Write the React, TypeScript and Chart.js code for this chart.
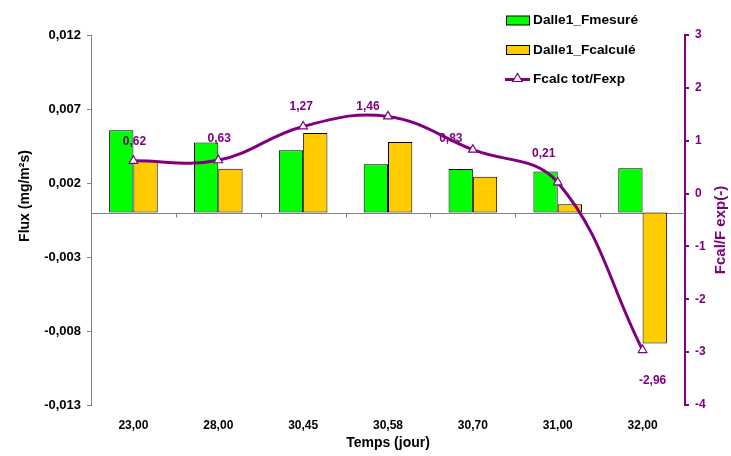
import React, { useEffect, useRef } from "react";
import { Chart, registerables } from "chart.js";

Chart.register(...registerables);

const categories = ["23,00", "28,00", "30,45", "30,58", "30,70", "31,00", "32,00"];
const fMesure = [0.00556, 0.00473, 0.00421, 0.00326, 0.00295, 0.00277, 0.00299];
const fCalcule = [0.00347, 0.00297, 0.00538, 0.00477, 0.00243, 0.00056, -0.00885];
const ratio = [0.62, 0.63, 1.27, 1.46, 0.83, 0.21, -2.96];
const fluxTicks = [-0.013, -0.008, -0.003, 0.002, 0.007, 0.012];
const ratioTicks = [-4, -3, -2, -1, 0, 1, 2, 3];

const seriesNames = ["Dalle1_Fmesuré", "Dalle1_Fcalculé", "Fcalc tot/Fexp"];

// label placement offsets (styling)
const labelOffsets = [
  [1, -19],
  [1, -22],
  [-2, -20],
  [-20, -10],
  [-22, -11],
  [-14, -29],
  [10, 31],
];

const GREEN = "#00FF00";
const YELLOW = "#FFCC00";
const PURPLE = "#800080";
const FONT = "'Liberation Sans', Arial, sans-serif";
const W = 723;
const H = 448;

const fmtComma = (v: number, d: number) => v.toFixed(d).replace(".", ",");

const drawTriangle = (ctx: CanvasRenderingContext2D, x: number, y: number, r: number) => {
  ctx.beginPath();
  ctx.moveTo(x, y - r);
  ctx.lineTo(x + r * 0.95, y + r * 0.6);
  ctx.lineTo(x - r * 0.95, y + r * 0.6);
  ctx.closePath();
  ctx.fillStyle = "#fff";
  ctx.fill();
  ctx.strokeStyle = PURPLE;
  ctx.lineWidth = 1.2;
  ctx.stroke();
};

const customPlugin = {
  id: "custom",
  beforeDatasetsDraw(chart: any) {
    const { ctx, chartArea, scales } = chart;
    const y0 = Math.round(scales.y.getPixelForValue(0)) + 0.5;
    ctx.save();
    ctx.strokeStyle = "#808080";
    ctx.lineWidth = 1;
    ctx.beginPath();
    ctx.moveTo(chartArea.left, y0);
    ctx.lineTo(chartArea.right, y0);
    const n = categories.length;
    const w = (chartArea.right - chartArea.left) / n;
    for (let i = 1; i < n; i++) {
      const x = Math.round(chartArea.left + i * w) + 0.5;
      ctx.moveTo(x, y0);
      ctx.lineTo(x, y0 + 4);
    }
    ctx.stroke();
    ctx.restore();
  },
  afterDatasetsDraw(chart: any) {
    const { ctx } = chart;
    const meta = chart.getDatasetMeta(2);
    ctx.save();
    ctx.font = `bold 12px ${FONT}`;
    ctx.fillStyle = PURPLE;
    ctx.textAlign = "center";
    ctx.textBaseline = "middle";
    meta.data.forEach((pt: any, i: number) => {
      const [dx, dy] = labelOffsets[i];
      ctx.fillText(fmtComma(ratio[i], 2), pt.x + dx, pt.y + dy);
    });
    ctx.restore();
  },
  afterDraw(chart: any) {
    const { ctx, chartArea } = chart;
    ctx.save();
    // axis titles
    ctx.font = `bold 14px ${FONT}`;
    ctx.textAlign = "center";
    ctx.textBaseline = "middle";
    ctx.fillStyle = "#000";
    ctx.fillText("Temps (jour)", (chartArea.left + chartArea.right) / 2, 435);
    ctx.save();
    ctx.translate(17, 188);
    ctx.rotate(-Math.PI / 2);
    ctx.fillText("Flux (mg/m²s)", 0, 0);
    ctx.restore();
    ctx.save();
    ctx.font = `bold 15px ${FONT}`;
    ctx.fillStyle = PURPLE;
    ctx.translate(713, 222);
    ctx.rotate(-Math.PI / 2);
    ctx.fillText("Fcal/F exp(-)", 0, 0);
    ctx.restore();

    // legend
    const lx = 498;
    const rows = [12.5, 42, 71.5];
    ctx.font = `bold 13.7px ${FONT}`;
    ctx.textAlign = "left";
    ctx.textBaseline = "middle";
    [GREEN, YELLOW].forEach((c, i) => {
      ctx.fillStyle = c;
      ctx.fillRect(lx + 0.5, rows[i] - 4.5, 23, 9);
      ctx.strokeStyle = "#000";
      ctx.lineWidth = 1;
      ctx.strokeRect(lx + 0.5, rows[i] - 4.5, 23, 9);
    });
    ctx.strokeStyle = PURPLE;
    ctx.lineWidth = 3;
    ctx.beginPath();
    ctx.moveTo(lx - 1, rows[2]);
    ctx.lineTo(lx + 24, rows[2]);
    ctx.stroke();
    drawTriangle(ctx, lx + 11.5, rows[2] - 1, 5);
    ctx.fillStyle = "#000";
    seriesNames.forEach((s, i) => ctx.fillText(s, lx + 27, rows[i]));
    ctx.restore();
  },
};

export default function App() {
  const ref = useRef<HTMLCanvasElement | null>(null);
  useEffect(() => {
    if (!ref.current) return;
    Chart.defaults.font.family = FONT;
    const chart = new Chart(ref.current, {
      type: "bar",
      data: {
        labels: categories,
        datasets: [
          {
            label: seriesNames[0],
            data: fMesure,
            backgroundColor: GREEN,
            borderColor: "#000",
            borderWidth: 1,
            borderSkipped: false,
            yAxisID: "y",
            order: 1,
            barPercentage: 1,
            categoryPercentage: 0.573,
          },
          {
            label: seriesNames[1],
            data: fCalcule,
            backgroundColor: YELLOW,
            borderColor: "#000",
            borderWidth: 1,
            borderSkipped: false,
            yAxisID: "y",
            order: 1,
            barPercentage: 1,
            categoryPercentage: 0.573,
          },
          {
            type: "line",
            label: seriesNames[2],
            data: ratio,
            borderColor: PURPLE,
            borderWidth: 3,
            tension: 0.4,
            pointStyle: "triangle",
            pointRadius: 5,
            pointBackgroundColor: "#fff",
            pointBorderColor: PURPLE,
            pointBorderWidth: 1.2,
            yAxisID: "y1",
            order: 0,
          } as any,
        ],
      },
      options: {
        responsive: false,
        animation: false,
        layout: { padding: { top: 27, left: 0, right: 0, bottom: 0 } },
        plugins: { legend: { display: false }, tooltip: { enabled: false } },
        scales: {
          x: {
            offset: true,
            grid: { display: false, drawTicks: false },
            border: { display: false },
            ticks: { color: "#000", font: { size: 12, weight: "bold" }, padding: 13, maxRotation: 0 },
            afterFit: (s: any) => {
              s.height = H - 397;
            },
          },
          y: {
            position: "left",
            min: -0.013,
            max: 0.012,
            afterBuildTicks: (s: any) => {
              s.ticks = fluxTicks.map((v) => ({ value: v }));
            },
            grid: { drawOnChartArea: false, tickLength: 4, color: "#808080" },
            border: { color: "#808080" },
            ticks: {
              color: "#000",
              font: { size: 13, weight: "bold" },
              padding: 6,
              callback: (v: any) => fmtComma(Number(v), 3),
            },
            afterFit: (s: any) => {
              s.width = 83;
            },
          },
          y1: {
            position: "right",
            min: -4,
            max: 3,
            afterBuildTicks: (s: any) => {
              s.ticks = ratioTicks.map((v) => ({ value: v }));
            },
            grid: { drawOnChartArea: false, tickLength: 4, color: PURPLE, lineWidth: 2 },
            border: { color: PURPLE, width: 2 },
            ticks: {
              color: PURPLE,
              font: { size: 12, weight: "bold" },
              padding: 6,
              callback: (v: any) => String(v),
            },
            afterFit: (s: any) => {
              s.width = W - 677;
            },
          },
        },
      },
      plugins: [customPlugin],
    });
    return () => chart.destroy();
  }, []);
  return (
    <div style={{ position: "absolute", left: 8, top: 8, width: W, height: H }}>
      <canvas ref={ref} width={W} height={H} style={{ display: "block" }} />
    </div>
  );
}
